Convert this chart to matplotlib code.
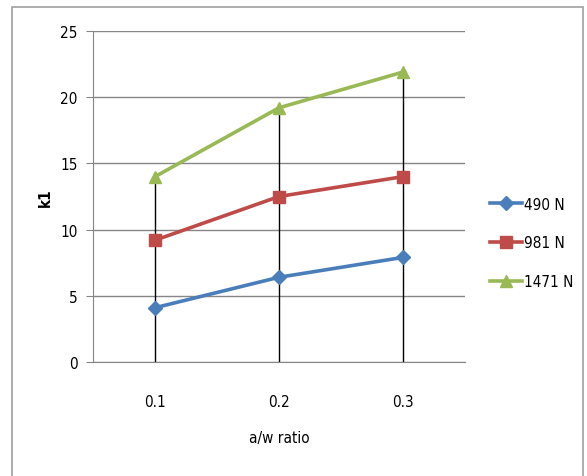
import matplotlib.pyplot as plt
from matplotlib.patches import Rectangle

ratios = ['0.1', '0.2', '0.3']
k1_490 = [4.1, 6.4, 7.9]
k1_981 = [9.2, 12.5, 14.0]
k1_1471 = [14.0, 19.2, 21.9]
series_labels = ['490 N', '981 N', '1471 N']

plt.rcParams['font.family'] = ['DejaVu Sans']
plt.rcParams['font.stretch'] = 'condensed'

fig = plt.figure(figsize=(5.87, 4.77), dpi=100)
ax = fig.add_axes([93 / 587, 1 - 363 / 477, 372 / 587, 331 / 477])

# chart area frame
fig.patches.append(Rectangle((12 / 587, -0.02), 571 / 587, 1 - 8 / 477 + 0.02,
                             transform=fig.transFigure, fill=False,
                             edgecolor='#a0a0a0', linewidth=1.2))

x = list(range(len(ratios)))

# drop lines from each point down to the axis
tops = [max(a, b, c) for a, b, c in zip(k1_490, k1_981, k1_1471)]
ax.vlines(x, 0, tops, color='black', linewidth=1, zorder=2)

ax.plot(x, k1_490, color='#4A7EBB', marker='D', markersize=7, linewidth=2.6,
        label=series_labels[0], zorder=3)
ax.plot(x, k1_981, color='#BE4B48', marker='s', markersize=9, linewidth=2.6,
        label=series_labels[1], zorder=3)
ax.plot(x, k1_1471, color='#98B954', marker='^', markersize=9, linewidth=2.6,
        label=series_labels[2], zorder=3)

ax.set_xlim(-0.5, 2.5)
ax.set_ylim(0, 25)
ax.set_yticks([0, 5, 10, 15, 20, 25])
ax.set_xticks(x)
ax.set_xticklabels(ratios)
ax.yaxis.grid(True, color='#868686', linewidth=1)
ax.set_axisbelow(True)

for side in ['top', 'right']:
    ax.spines[side].set_visible(False)
ax.spines['left'].set_color('#868686')
ax.spines['bottom'].set_color('#868686')
ax.tick_params(axis='y', length=5, color='#868686', labelsize=11, pad=6)
ax.tick_params(axis='x', length=0, labelsize=11, pad=23)

ax.set_xlabel('a/w ratio', fontsize=11, labelpad=15)
ax.set_ylabel('k1', fontsize=11, fontweight='bold', labelpad=5)

ax.legend(loc='center left', bbox_to_anchor=(1.03, 0.36), frameon=False,
          fontsize=11, handlelength=2.1, handletextpad=0.1, labelspacing=1.55)

fig.savefig('out.png', dpi=100)
